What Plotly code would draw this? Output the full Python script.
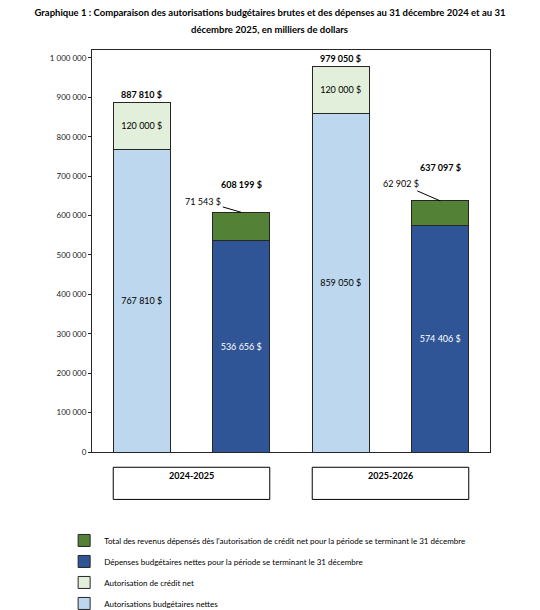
import plotly.graph_objects as go

# Données (en milliers de dollars)
periodes = ["2024-2025", "2025-2026"]
colonnes = ["Autorisations 2024-2025", "Dépenses 2024-2025",
            "Autorisations 2025-2026", "Dépenses 2025-2026"]

autorisations_nettes = [767810, None, 859050, None]
credit_net = [120000, None, 120000, None]
depenses_nettes = [None, 536656, None, 574406]
revenus_depenses = [None, 71543, None, 62902]
# totaux tels qu'affichés dans le graphique d'origine
totaux = [887810, 608199, 979050, 637097]

y_ticks = [0, 100000, 200000, 300000, 400000, 500000, 600000, 700000, 800000, 900000, 1000000]
y_ticktext = ["0", "100 000", "200 000", "300 000", "400 000", "500 000",
              "600 000", "700 000", "800 000", "900 000", "1 000 000"]

noms = {
    "rev": "Total des revenus dépensés dès l'autorisation de crédit net pour la période se terminant le 31 décembre",
    "dep": "Dépenses budgétaires nettes pour la période se terminant le 31 décembre",
    "cred": "Autorisation de crédit net",
    "aut": "Autorisations budgétaires nettes",
}

FONT = "Lato, Liberation Sans, sans-serif"
BAR_W = 0.573


def fmt(v):
    return f"{v:,}".replace(",", " ") + " $"


def etiquettes(vals):
    return [fmt(v) if v is not None else "" for v in vals]


fig = go.Figure()

# ordre d'empilement + rang dans la légende
series = [
    (autorisations_nettes, noms["aut"], "#BDD7EE", "#000000", True, 4),
    (credit_net, noms["cred"], "#E2EFDA", "#000000", True, 3),
    (depenses_nettes, noms["dep"], "#2F5597", "#FFFFFF", True, 2),
    (revenus_depenses, noms["rev"], "#538135", "#000000", False, 1),
]
for n, (vals, nom, couleur, coul_txt, avec_txt, rang) in enumerate(series):
    fig.add_trace(go.Bar(
        x=colonnes, y=vals, name=nom, legendgroup=f"g{n}", legendrank=rang,
        marker=dict(color=couleur, line=dict(color="#262626", width=1)),
        text=etiquettes(vals) if avec_txt else None,
        textposition="inside" if avec_txt else "none",
        insidetextanchor="middle", textangle=0,
        textfont=dict(family=FONT, size=9, color=coul_txt),
        width=BAR_W,
        hoverinfo="skip",
    ))

# totaux au-dessus des barres
decalage_total = [0, 20, 0, 26]
for i, (col, tot) in enumerate(zip(colonnes, totaux)):
    fig.add_annotation(x=col, y=tot, text="<b>" + fmt(tot) + "</b>", showarrow=False,
                       yanchor="bottom", yshift=decalage_total[i],
                       font=dict(family=FONT, size=9, color="#000000"))

# étiquettes avec ligne de rappel pour les revenus dépensés
rappel = {1: (-38, -11), 3: (-39, -17)}
for i, (ax, ay) in rappel.items():
    fig.add_annotation(x=colonnes[i], y=totaux[i], text=fmt(revenus_depenses[i]),
                       showarrow=True, arrowhead=0, arrowwidth=1, arrowcolor="#000000",
                       ax=ax, ay=ay, standoff=0,
                       font=dict(family=FONT, size=9, color="#000000"))

# boîtes des périodes sous l'axe
for k, per in enumerate(periodes):
    x0 = 2 * k - BAR_W / 2
    x1 = 2 * k + 1 + BAR_W / 2
    fig.add_shape(type="rect", xref="x", yref="paper", x0=x0, x1=x1, y0=-0.038, y1=-0.118,
                  line=dict(color="#000000", width=1), fillcolor="white")
    fig.add_annotation(xref="x", yref="paper", x=2 * k + 0.5, y=-0.078, text="<b>" + per + "</b>",
                       showarrow=False, font=dict(family=FONT, size=9, color="#000000"))

# deuxième ligne du titre (interligne plus large que <br>)
fig.add_annotation(xref="paper", yref="paper", x=0.4472, y=1.0498, yanchor="middle",
                   text="<b>décembre 2025, en milliers de dollars</b>", showarrow=False,
                   font=dict(family=FONT, size=9.5, color="#000000"))

fig.update_layout(
    title=dict(
        text="<b>Graphique 1 : Comparaison des autorisations budgétaires brutes et des dépenses au 31 décembre 2024 et au 31</b>",
        x=0.5, xref="container", xanchor="center", y=0.9787, yanchor="middle",
        font=dict(family=FONT, size=9.5, color="#000000"),
    ),
    width=540, height=610,
    barmode="stack",
    bargap=1 - BAR_W,
    plot_bgcolor="white", paper_bgcolor="white",
    margin=dict(l=92, r=50, t=50, b=158, autoexpand=False),
    showlegend=True,
    legend=dict(
        traceorder="grouped", tracegroupgap=2, orientation="v",
        x=-0.07, xanchor="left", y=-0.184, yanchor="top",
        font=dict(family=FONT, size=8, color="#000000"),
        itemwidth=30, bgcolor="rgba(0,0,0,0)",
    ),
    font=dict(family=FONT, color="#000000"),
)

fig.update_xaxes(showticklabels=False, showline=True, linecolor="#262626", linewidth=1,
                 mirror=True, ticks="", showgrid=False, range=[-0.5, 3.5], automargin=False)
fig.update_yaxes(range=[0, 1020000], tickvals=y_ticks, ticktext=y_ticktext,
                 showline=True, linecolor="#262626", linewidth=1, mirror=True,
                 ticks="outside", ticklen=3, tickcolor="#262626", showgrid=False, zeroline=False,
                 automargin=False,
                 tickfont=dict(family=FONT, size=8, color="#1a1a1a"))

# pas de marge autour du graphique dans la page, pas de barre d'outils
fig.write_html("out.html", config={"displayModeBar": False},
               post_script="document.body.style.margin = '0px';")
